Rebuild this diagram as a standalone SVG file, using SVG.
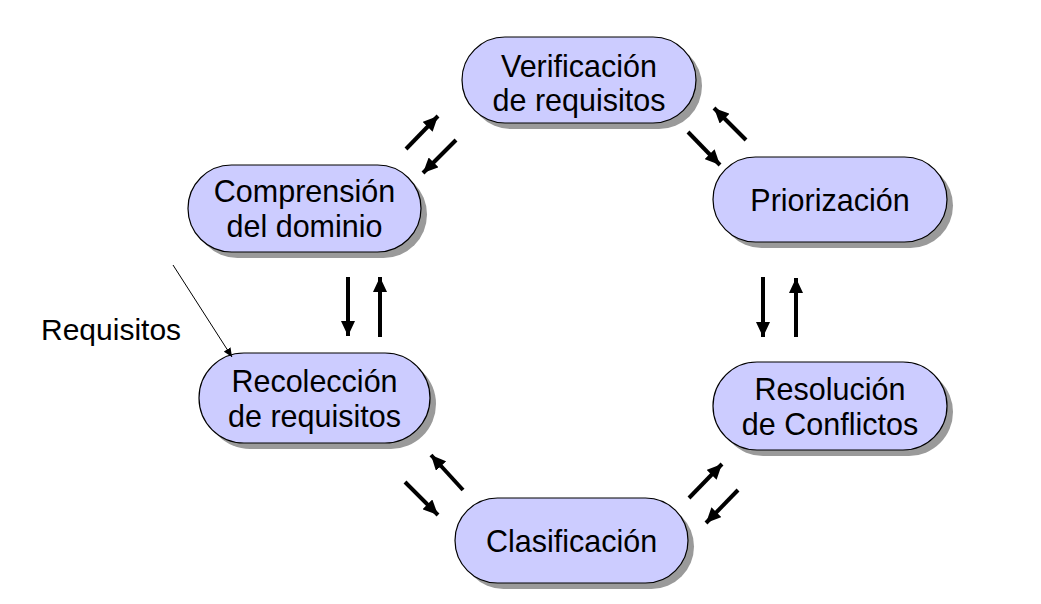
<svg xmlns="http://www.w3.org/2000/svg" width="1041" height="604" viewBox="0 0 1041 604">
<style>
.shadow{fill:#9a9a9a}
.box{fill:#ccccff;stroke:#000;stroke-width:1.2}
.lbl{font-family:"Liberation Sans",Arial,sans-serif;font-size:30.5px;fill:#000;text-anchor:middle}
.arr{stroke:#000;stroke-width:4;fill:none;marker-end:url(#ah)}
.thin{stroke:#000;stroke-width:1;fill:none;marker-end:url(#ahs)}
</style>
<defs>
<marker id="ah" markerUnits="userSpaceOnUse" markerWidth="16" markerHeight="14" refX="15" refY="7" orient="auto">
<path d="M0,0 L15,7 L0,14 z" fill="#000"/>
</marker>
<marker id="ahs" markerUnits="userSpaceOnUse" markerWidth="10" markerHeight="8" refX="9" refY="4" orient="auto">
<path d="M0,0 L9,4 L0,8 z" fill="#000"/>
</marker>
</defs>
<rect width="1041" height="604" fill="#fff"/>
<g id="verificacion">
<rect class="shadow" x="468" y="43" width="234" height="86" rx="43"/>
<rect class="box" x="462" y="37" width="234" height="86" rx="43"/>
<text class="lbl" x="579" y="77">Verificación</text>
<text class="lbl" x="579" y="111">de requisitos</text>
</g>
<g id="comprension">
<rect class="shadow" x="194" y="171" width="233" height="87" rx="43.5"/>
<rect class="box" x="188" y="165" width="233" height="87" rx="43.5"/>
<text class="lbl" x="304.5" y="202">Comprensión</text>
<text class="lbl" x="304.5" y="237">del dominio</text>
</g>
<g id="priorizacion">
<rect class="shadow" x="719" y="163" width="234" height="85" rx="42.5"/>
<rect class="box" x="713" y="157" width="234" height="85" rx="42.5"/>
<text class="lbl" x="830" y="211">Priorización</text>
</g>
<g id="recoleccion">
<rect class="shadow" x="205" y="359" width="231" height="90" rx="45"/>
<rect class="box" x="199" y="353" width="231" height="90" rx="45"/>
<text class="lbl" x="314.5" y="392">Recolección</text>
<text class="lbl" x="314.5" y="427">de requisitos</text>
</g>
<g id="resolucion">
<rect class="shadow" x="719" y="368" width="234" height="88" rx="44"/>
<rect class="box" x="713" y="362" width="234" height="88" rx="44"/>
<text class="lbl" x="830" y="400">Resolución</text>
<text class="lbl" x="830" y="435">de Conflictos</text>
</g>
<g id="clasificacion">
<rect class="shadow" x="461" y="504" width="233" height="85" rx="42.5"/>
<rect class="box" x="455" y="498" width="233" height="85" rx="42.5"/>
<text class="lbl" x="571.5" y="552">Clasificación</text>
</g>
<g id="requisitos-label">
<text x="41" y="340" style="font-family:'Liberation Sans',Arial,sans-serif;font-size:30px;fill:#000">Requisitos</text>
</g>
<g id="connectors">
<line class="arr" x1="406" y1="149" x2="438" y2="116"/>
<line class="arr" x1="456" y1="140" x2="423" y2="173"/>
<line class="arr" x1="746" y1="140" x2="714" y2="108"/>
<line class="arr" x1="688" y1="132" x2="720" y2="165"/>
<line class="arr" x1="348" y1="277" x2="348" y2="336"/>
<line class="arr" x1="380" y1="337" x2="380" y2="277"/>
<line class="arr" x1="763" y1="277" x2="763" y2="337"/>
<line class="arr" x1="796" y1="337" x2="796" y2="278"/>
<line class="arr" x1="463" y1="490" x2="431" y2="455"/>
<line class="arr" x1="405" y1="482" x2="438" y2="515"/>
<line class="arr" x1="689" y1="498" x2="722" y2="464"/>
<line class="arr" x1="738" y1="490" x2="706" y2="523"/>
<line class="thin" x1="173" y1="265" x2="232" y2="357"/>
</g>
</svg>
